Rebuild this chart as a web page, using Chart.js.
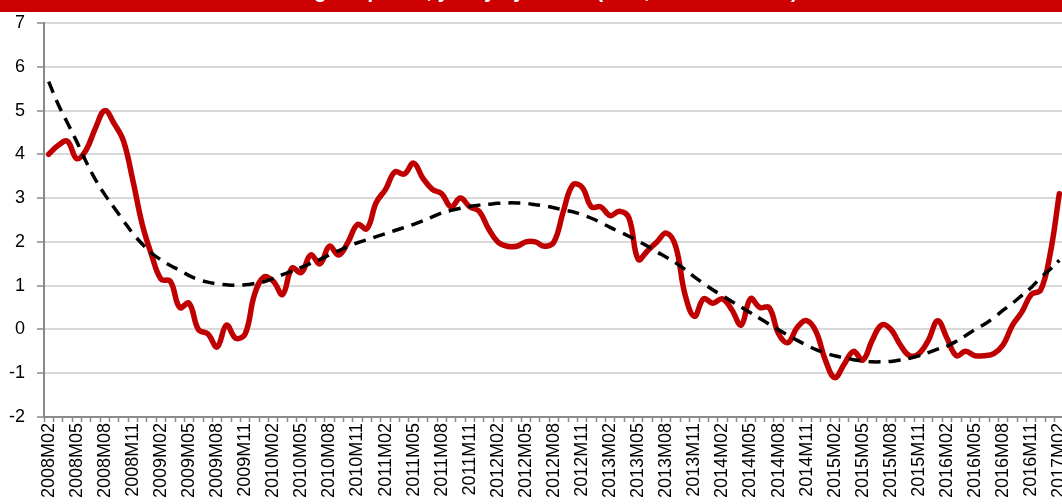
<!DOCTYPE html>
<html>
<head>
<meta charset="utf-8">
<script src="https://cdn.jsdelivr.net/npm/chart.js@4.4.1/dist/chart.umd.min.js"></script>
<style>
    html, body { margin: 0; padding: 0; background: #fff; overflow: hidden; }
    body { width: 1062px; height: 504px; position: relative; }
    .band {
        position: absolute; left: 0; top: 0; width: 1062px; height: 12px;
        background: #cc0000; overflow: hidden;
    }
    .band span {
        position: absolute; left: 0; width: 1062px; top: -20px;
        text-align: center; color: #fff; font: bold 20px 'Liberation Sans', Arial, sans-serif;
        white-space: nowrap;
    }
    .wrap { position: absolute; left: 0; top: 12px; width: 1066px; height: 492px; }
</style>
</head>
<body>
<div class="band"><span>Change of prices, yearly by month (in %, with trend line)</span></div>
<div class="wrap"><canvas id="chart"></canvas></div>
<script>
/* ---------- Data ---------- */
const years = [2008, 2009, 2010, 2011, 2012, 2013, 2014, 2015, 2016, 2017];

// monthly categories 2008M02 .. 2017M02
const months = [];
for (const y of years) {
    for (let m = 1; m <= 12; m++) {
        if ((y === 2008 && m < 2) || (y === 2017 && m > 2)) continue;
        months.push(y + 'M' + String(m).padStart(2, '0'));
    }
}

// red series
const rate = [
    4.0, 4.2, 4.3, 3.9, 4.1, 4.6, 5.0, 4.7, 4.3, 3.4,
    2.4, 1.7, 1.15, 1.1, 0.5, 0.6, 0.0, -0.1, -0.4, 0.1,
    -0.2, -0.1, 0.8, 1.2, 1.1, 0.8, 1.4, 1.3, 1.7, 1.5,
    1.9, 1.7, 2.0, 2.4, 2.3, 2.9, 3.2, 3.6, 3.55, 3.8,
    3.45, 3.2, 3.1, 2.8, 3.0, 2.8, 2.7, 2.3, 2.0, 1.9,
    1.9, 2.0, 2.0, 1.9, 2.0, 2.7, 3.3, 3.25, 2.8, 2.8,
    2.6, 2.7, 2.55, 1.6, 1.8, 2.0, 2.2, 1.9, 0.8, 0.3,
    0.7, 0.6, 0.7, 0.45, 0.1, 0.7, 0.5, 0.5, -0.1, -0.3,
    0.05, 0.2, -0.05, -0.7, -1.1, -0.8, -0.5, -0.7, -0.25, 0.1,
    0.0, -0.35, -0.6, -0.55, -0.25, 0.2, -0.2, -0.6, -0.5, -0.6,
    -0.6, -0.55, -0.35, 0.1, 0.4, 0.8, 0.9, 1.7, 3.1
];

// black dashed trend
const trend = [
    5.66, 5.15, 4.72, 4.29, 3.83, 3.42, 3.08, 2.78, 2.48, 2.19,
    1.95, 1.74, 1.59, 1.46, 1.35, 1.23, 1.14, 1.08, 1.04, 1.02,
    1.01, 1.02, 1.05, 1.09, 1.16, 1.25, 1.33, 1.42, 1.51, 1.60,
    1.70, 1.80, 1.90, 1.98, 2.05, 2.12, 2.19, 2.26, 2.33, 2.40,
    2.48, 2.57, 2.66, 2.72, 2.77, 2.81, 2.84, 2.86, 2.88, 2.89,
    2.89, 2.88, 2.85, 2.82, 2.78, 2.73, 2.69, 2.62, 2.54, 2.44,
    2.33, 2.23, 2.13, 2.02, 1.90, 1.77, 1.65, 1.52, 1.37, 1.20,
    1.05, 0.90, 0.77, 0.64, 0.51, 0.38, 0.25, 0.12, -0.01, -0.13,
    -0.25, -0.36, -0.46, -0.54, -0.60, -0.65, -0.69, -0.72, -0.74, -0.74,
    -0.73, -0.70, -0.66, -0.60, -0.53, -0.45, -0.38, -0.27, -0.14, 0.00,
    0.12, 0.27, 0.44, 0.60, 0.78, 0.96, 1.18, 1.37, 1.58
];

const yMin = -2;
const yMax = 7;

/* ---------- Chart ---------- */
const axisGrey = '#898989';

new Chart(document.getElementById('chart'), {
    type: 'line',
    data: {
        labels: months,
        datasets: [
            {
                label: 'Trend',
                data: trend,
                borderColor: '#000',
                borderWidth: 3.5,
                borderDash: [12, 8],
                pointRadius: 0,
                tension: 0.4,
                fill: false
            },
            {
                label: 'Rate',
                data: rate,
                borderColor: '#c00000',
                borderWidth: 5.5,
                borderJoinStyle: 'round',
                borderCapStyle: 'round',
                pointRadius: 0,
                tension: 0.4,
                fill: false
            }
        ]
    },
    options: {
        responsive: true,
        maintainAspectRatio: false,
        animation: false,
        events: [],
        layout: { padding: { top: 11, right: 2, left: 0, bottom: 0 } },
        plugins: {
            legend: { display: false },
            tooltip: { enabled: false }
        },
        scales: {
            x: {
                offset: true,
                grid: {
                    drawOnChartArea: false,
                    drawTicks: true,
                    tickLength: 5,
                    tickColor: axisGrey,
                    tickWidth: 1.5,
                    offset: true
                },
                border: { color: axisGrey, width: 2 },
                ticks: {
                    autoSkip: false,
                    minRotation: 90,
                    maxRotation: 90,
                    padding: 1,
                    color: '#000',
                    font: { family: 'Liberation Sans', size: 18 },
                    callback: (v, i) => (i % 3 === 0 ? months[i] : '')
                },
                afterFit: s => {
                    s.height = 87;
                    s.paddingLeft = 0;
                    s.paddingRight = 0;
                }
            },
            y: {
                min: yMin,
                max: yMax,
                grid: {
                    color: '#d9d9d9',
                    lineWidth: 2,
                    tickLength: 7,
                    tickColor: axisGrey,
                    tickWidth: 1.5
                },
                border: { color: axisGrey, width: 2 },
                ticks: {
                    stepSize: 1,
                    padding: 12,
                    color: '#000',
                    font: { family: 'Liberation Sans', size: 18 }
                },
                afterFit: s => {
                    s.width = 44;
                    s.paddingTop = 0;
                    s.paddingBottom = 0;
                }
            }
        }
    }
});
</script>
</body>
</html>
